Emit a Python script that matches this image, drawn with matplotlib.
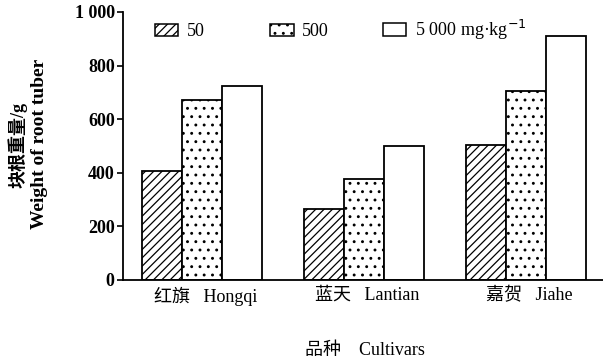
import numpy as np
import matplotlib
matplotlib.use("Agg")
import matplotlib.pyplot as plt
from matplotlib.patches import Patch

plt.rcParams['font.family'] = ['Liberation Serif', 'Noto Sans CJK SC']
plt.rcParams['hatch.linewidth'] = 0.9

# data
cultivars = ['红旗   Hongqi', '蓝天   Lantian', '嘉贺   Jiahe']
w50 = [405, 265, 505]
w500 = [672, 378, 705]
w5000 = [722, 500, 910]
series_labels = ['50', '500', '5 000 mg·kg$^{-1}$']
yticks = [0, 200, 400, 600, 800, 1000]
ytick_labels = ['0', '200', '400', '600', '800', '1 000']

fig = plt.figure(figsize=(6.03, 3.63), dpi=100)
ax = fig.add_axes([0.204, 0.229, 0.796, 0.738])

x = np.arange(len(cultivars))
bw = 0.247
hatches = ['////', '..', None]
for i, (vals, h) in enumerate(zip([w50, w500, w5000], hatches)):
    ax.bar(x + (i - 1) * bw, vals, bw, facecolor='white', edgecolor='black',
           linewidth=1.3, hatch=h)

ax.set_xlim(-0.488, 2.475)
ax.set_ylim(0, 1000)
ax.set_yticks(yticks)
ax.set_yticklabels(ytick_labels, fontsize=13, fontweight='bold')
ax.set_xticks(x + 0.02)
ax.set_xticklabels(cultivars, fontsize=13)
ax.tick_params(axis='x', length=0, pad=5)
ax.tick_params(axis='y', direction='out', length=4, width=1.2, pad=2)
for s in ['top', 'right']:
    ax.spines[s].set_visible(False)
for s in ['left', 'bottom']:
    ax.spines[s].set_linewidth(1.3)

# legend entries placed one by one, like the original layout
leg_x = [0.257, 0.448, 0.635]
leg_y = [0.912, 0.912, 0.918]
for h, lab, lx, ly in zip(hatches, series_labels, leg_x, leg_y):
    p = Patch(facecolor='white', edgecolor='black', hatch=h, linewidth=1.1)
    fig.legend([p], [lab], loc='center left', bbox_to_anchor=(lx, ly),
               frameon=False, fontsize=13, handlelength=1.3, handleheight=0.65,
               handletextpad=0.45, borderaxespad=0, borderpad=0)

fig.text(0.03, 0.6, '块根重量/g', rotation=90, ha='center', va='center', fontsize=13,
         fontweight='bold')
fig.text(0.066, 0.605, 'Weight of root tuber', rotation=90, ha='center', va='center',
         fontsize=14, fontweight='bold')
fig.text(0.605, 0.035, '品种    Cultivars', ha='center', va='center', fontsize=13)

fig.savefig('out.png', dpi=100)
